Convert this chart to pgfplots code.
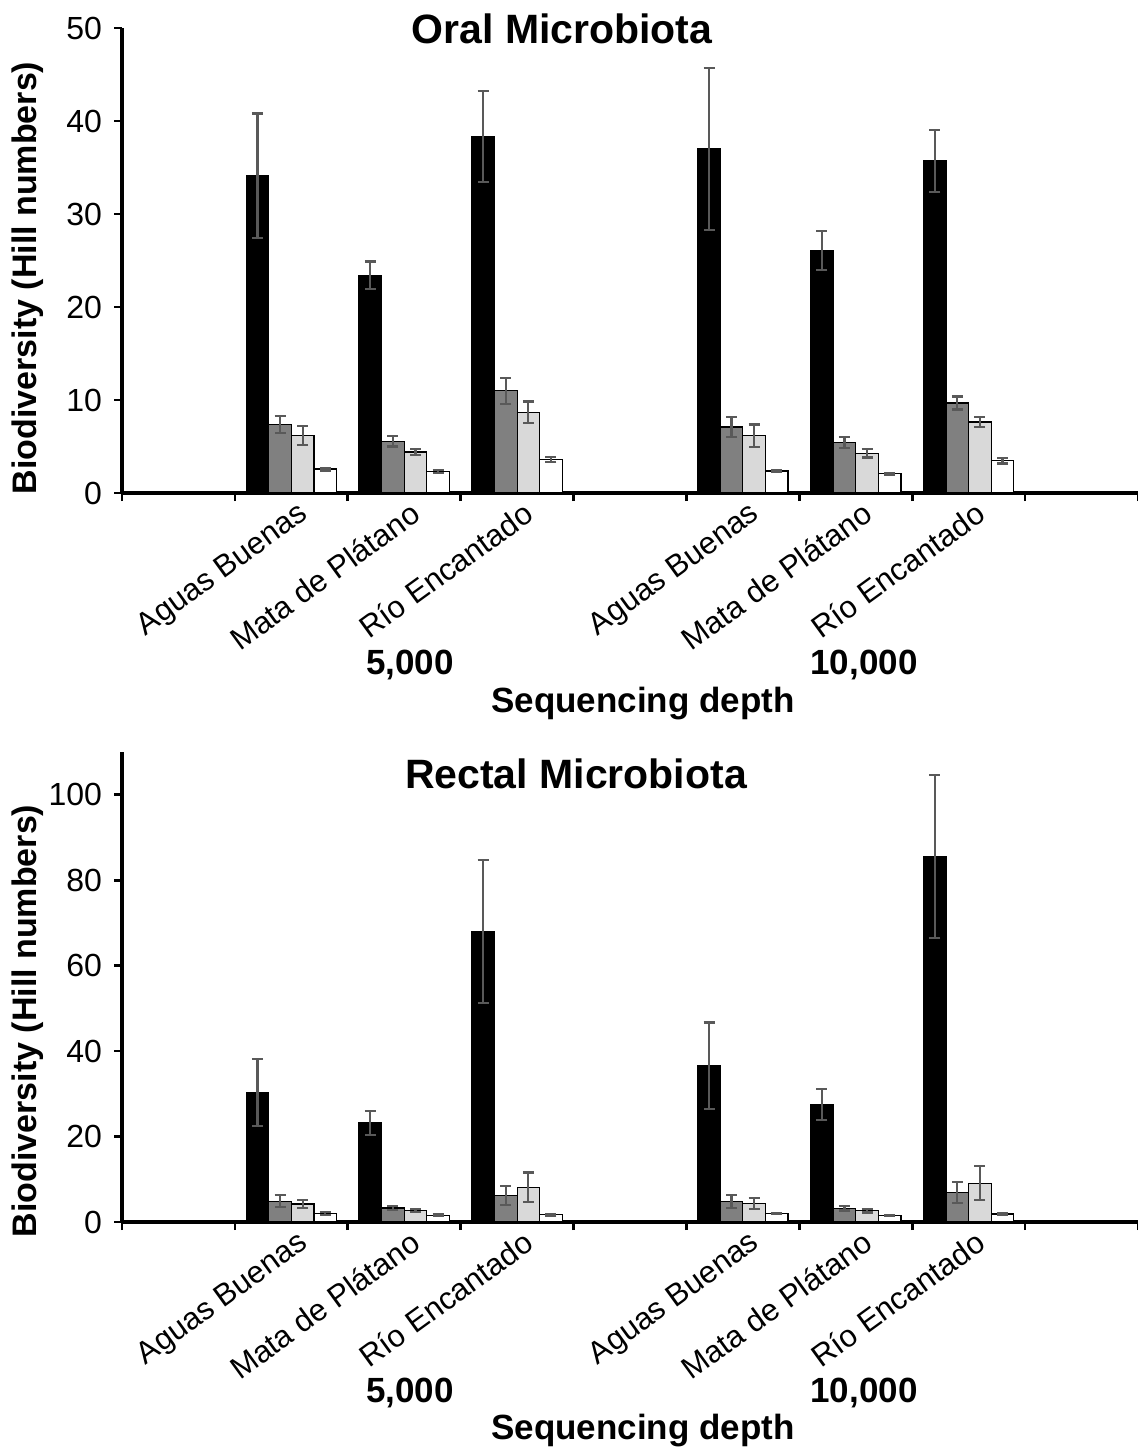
\documentclass[border=0pt]{standalone}
\usepackage{fontspec}
\setmainfont{Liberation Sans}
\usepackage{pgfplots}
\pgfplotsset{compat=1.18}
\usepackage{pgfplotstable}

\definecolor{dgray}{HTML}{808080}
\definecolor{lgray}{HTML}{D9D9D9}
\definecolor{errc}{HTML}{595959}

% Oral microbiota: x = category slot, y = mean, e = error
\pgfplotstableread{
x y e
1 34.1 6.7
2 23.4 1.5
3 38.3 4.9
5 37.0 8.7
6 26.1 2.1
7 35.7 3.3
}\oralA
\pgfplotstableread{
x y e
1 7.35 0.9
2 5.56 0.55
3 11.0 1.4
5 7.1 1.07
6 5.45 0.6
7 9.68 0.7
}\oralB
\pgfplotstableread{
x y e
1 6.2 1.0
2 4.4 0.35
3 8.7 1.15
5 6.16 1.2
6 4.27 0.45
7 7.63 0.55
}\oralC
\pgfplotstableread{
x y e
1 2.58 0.15
2 2.3 0.15
3 3.6 0.25
5 2.37 0.1
6 2.08 0.1
7 3.48 0.3
}\oralD

% Rectal microbiota
\pgfplotstableread{
x y e
1 30.3 7.9
2 23.2 2.8
3 68.0 16.7
5 36.6 10.1
6 27.5 3.6
7 85.6 19.1
}\rectA
\pgfplotstableread{
x y e
1 4.84 1.4
2 3.3 0.5
3 6.2 2.2
5 4.84 1.5
6 3.2 0.5
7 6.9 2.5
}\rectB
\pgfplotstableread{
x y e
1 4.2 1.0
2 2.7 0.4
3 8.1 3.5
5 4.3 1.25
6 2.65 0.4
7 9.1 4.0
}\rectC
\pgfplotstableread{
x y e
1 2.0 0.3
2 1.6 0.2
3 1.7 0.2
5 2.0 0.2
6 1.56 0.15
7 1.9 0.2
}\rectD

\pgfplotsset{
  panel/.style={
    scale only axis, width=508pt,
    xmin=-0.5, xmax=8.5, ymin=0,
    axis x line=bottom, axis y line=left,
    axis line style={-, line width=1.6pt},
    ybar, bar width=0.2,
    xtick={1,2,3,5,6,7},
    xticklabels={Aguas Buenas, Mata de Plátano, Río Encantado, Aguas Buenas, Mata de Plátano, Río Encantado},
    minor xtick={-0.5,0.5,...,8.5},
    major x tick style={draw=none},
    tick align=outside, major tick length=4pt, minor tick length=4pt,
    tick style={black, line width=1.3pt},
    xticklabel style={rotate=36, anchor=north east, inner sep=0pt,
      xshift=2.5pt, yshift=-1pt,
      font=\fontsize{15.5}{17}\selectfont},
    yticklabel style={font=\fontsize{16}{18}\selectfont, xshift=-2.5pt},
    /pgf/number format/assume math mode=true,
    clip=false,
  },
  errs/.style={error bars/.cd, y dir=both, y explicit,
    error bar style={errc, line width=1.1pt},
    error mark options={errc, rotate=90, line width=1.1pt, mark size=2.75pt}},
  s0/.style={fill=black, draw=black, line width=0.6pt, bar shift=-0.3, errs},
  s1/.style={fill=dgray, draw=black, line width=0.6pt, bar shift=-0.1, errs},
  s2/.style={fill=lgray, draw=black, line width=0.6pt, bar shift=0.1, errs},
  s3/.style={fill=white, draw=black, line width=0.6pt, bar shift=0.3, errs},
}

\begin{document}
\begin{tikzpicture}
\path[use as bounding box] (0pt,0pt) rectangle (569pt,-724pt);

\begin{axis}[panel, at={(61pt,-246.5pt)}, anchor=south west,
  height=232.5pt, ymax=50, ytick={0,10,...,50}]
\addplot[s0] table[x=x, y=y, y error=e] {\oralA};
\addplot[s1] table[x=x, y=y, y error=e] {\oralB};
\addplot[s2] table[x=x, y=y, y error=e] {\oralC};
\addplot[s3] table[x=x, y=y, y error=e] {\oralD};
\end{axis}

\begin{axis}[panel, at={(61pt,-611pt)}, anchor=south west,
  height=235pt, ymax=110, ytick={0,20,...,100}]
\addplot[s0] table[x=x, y=y, y error=e] {\rectA};
\addplot[s1] table[x=x, y=y, y error=e] {\rectB};
\addplot[s2] table[x=x, y=y, y error=e] {\rectC};
\addplot[s3] table[x=x, y=y, y error=e] {\rectD};
\end{axis}

% titles
\node[anchor=base, font=\bfseries\fontsize{20.5}{24}\selectfont] at (281pt,-21.5pt) {Oral Microbiota};
\node[anchor=base, font=\bfseries\fontsize{20.5}{24}\selectfont] at (288pt,-394pt) {Rectal Microbiota};
% y labels
\node[rotate=90, anchor=base, font=\bfseries\fontsize{17}{20}\selectfont] at (18.5pt,-139pt) {Biodiversity (Hill numbers)};
\node[rotate=90, anchor=base, font=\bfseries\fontsize{17}{20}\selectfont] at (18.5pt,-510.5pt) {Biodiversity (Hill numbers)};
% depth labels
\node[anchor=base, font=\bfseries\fontsize{17.5}{20}\selectfont] at (205pt,-337pt) {5,000};
\node[anchor=base, font=\bfseries\fontsize{17.5}{20}\selectfont] at (432pt,-337pt) {10,000};
\node[anchor=base, font=\bfseries\fontsize{17.5}{20}\selectfont] at (321.5pt,-356pt) {Sequencing depth};
\node[anchor=base, font=\bfseries\fontsize{17.5}{20}\selectfont] at (205pt,-701pt) {5,000};
\node[anchor=base, font=\bfseries\fontsize{17.5}{20}\selectfont] at (432pt,-701pt) {10,000};
\node[anchor=base, font=\bfseries\fontsize{17.5}{20}\selectfont] at (321.5pt,-719.5pt) {Sequencing depth};
\end{tikzpicture}
\end{document}
